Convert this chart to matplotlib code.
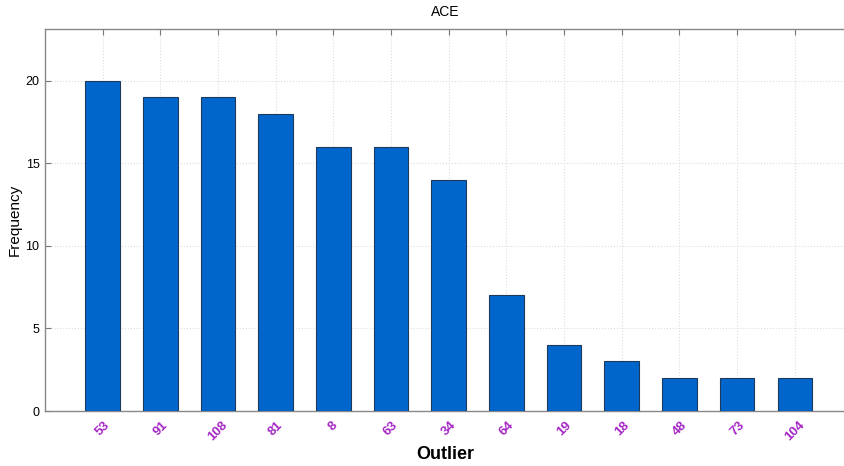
import matplotlib
matplotlib.use("Agg")
import matplotlib.pyplot as plt
import numpy as np

categories = ["53", "91", "108", "81", "8", "63", "34", "64", "19", "18", "48", "73", "104"]
values = [20, 19, 19, 18, 16, 16, 14, 7, 4, 3, 2, 2, 2]
yticks = [0, 5, 10, 15, 20]

plt.rcParams['font.family'] = ['Liberation Sans', 'DejaVu Sans']

fig = plt.figure(figsize=(8.45, 4.66), dpi=100)
ax = fig.add_axes([45/845, 55/466, 1 - 45/845, 382/466])

x = np.arange(1, len(categories) + 1)
ax.bar(x, values, width=0.6, color='#0066CC', edgecolor='#1E3A5A', linewidth=0.8, zorder=3)

ax.set_xlim(0, 13.87)
ax.set_ylim(0, 23.15)
ax.set_xticks(x)
ax.set_xticklabels(categories, rotation=45, color='#A526C4', fontweight='bold', fontsize=9.5)
ax.set_yticks(yticks)
ax.tick_params(axis='y', labelsize=9, direction='in', length=4, color='#777777', pad=4)
ax.tick_params(axis='x', direction='in', length=4, color='#777777', top=True, pad=6)
for lbl in ax.get_xticklabels():
    lbl.set_horizontalalignment('center')

ax.grid(True, color='#DDDDDD', linestyle=':', linewidth=0.8, zorder=0)
for s in ['top', 'bottom', 'left', 'right']:
    ax.spines[s].set_color('#888888')
    ax.spines[s].set_linewidth(1.0)
ax.spines['right'].set_visible(False)

ax.set_title('ACE', fontsize=10, pad=9)
ax.set_ylabel('Frequency', fontsize=11, labelpad=3)
ax.set_xlabel('Outlier', fontsize=13, fontweight='bold', labelpad=2)

fig.savefig('out.png', dpi=100)
